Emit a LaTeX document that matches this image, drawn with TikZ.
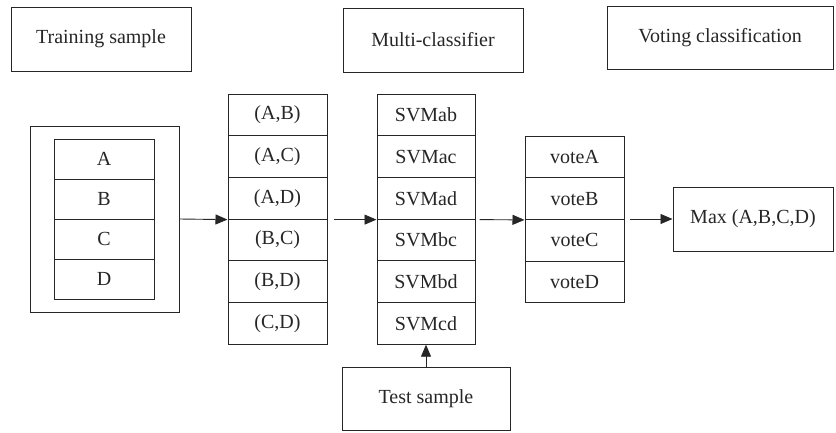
\documentclass[tikz,border=0pt]{standalone}
\usepackage{fontspec}
\setmainfont{Liberation Serif}
\usetikzlibrary{arrows.meta}
\begin{document}
\begin{tikzpicture}[x=1pt,y=-1pt,
  box/.style={draw=black!85,line width=1pt,rectangle,inner sep=0pt,font=\fontsize{20}{22}\selectfont,text=black!85},
  title/.style={box,minimum height=64pt},
  cell/.style={box,minimum width=#1,minimum height=41.7pt},
  abcd/.style={box,minimum width=100pt,minimum height=40pt},
  arr/.style={draw=black!85,line width=0.9pt,-{Triangle[length=12pt,width=10pt]}}]
\useasboundingbox (0,0) rectangle (836,432);
% titles
\node[title,minimum width=180pt] (train) at (101,39) {Training sample};
\node[title,minimum width=180pt] (multi) at (433,40) {Multi-classifier};
\node[title,minimum width=226pt,minimum height=63pt] (votet) at (720,38) {Voting classification};
% training set
\node[box,minimum width=149pt,minimum height=186pt] (outer) at (104.5,219) {};
\node[abcd] (a) at (104,159) {A};
\node[abcd] (b) at (104,199) {B};
\node[abcd] (c) at (104,239) {C};
\node[abcd] (d) at (104,279) {D};
% pairs
\foreach \i/\t in {1/{(A,B)},2/{(A,C)},3/{(A,D)},4/{(B,C)},5/{(B,D)},6/{(C,D)}}{
  \node[cell=99pt] (p\i) at (277.5,{94+41.7*(\i-0.5)}) {\t};
}
% SVMs
\foreach \i/\t in {1/SVMab,2/SVMac,3/SVMad,4/SVMbc,5/SVMbd,6/SVMcd}{
  \node[cell=98pt] (s\i) at (426,{94+41.7*(\i-0.5)}) {\t};
}
% votes
\foreach \i/\t in {1/voteA,2/voteB,3/voteC,4/voteD}{
  \node[cell=99pt] (v\i) at (574.5,{136+41.7*(\i-0.5)}) {\t};
}
\node[box,minimum width=160pt,minimum height=64pt] (max) at (753,219) {Max (A,B,C,D)};
\node[box,minimum width=168pt,minimum height=63pt] (test) at (426,398.5) {Test sample};
% arrows
\draw[arr] (outer.east) -- (p3.south west);
\draw[arr] ([xshift=6pt]p3.south east) -- (s3.south west);
\draw[arr] ([xshift=4pt]s3.south east) -- (v2.south west);
\draw[arr] ([xshift=5pt]v2.south east |- max.west) -- (max.west);
\draw[arr] (test.north) -- (s6.south);
\end{tikzpicture}
\end{document}
